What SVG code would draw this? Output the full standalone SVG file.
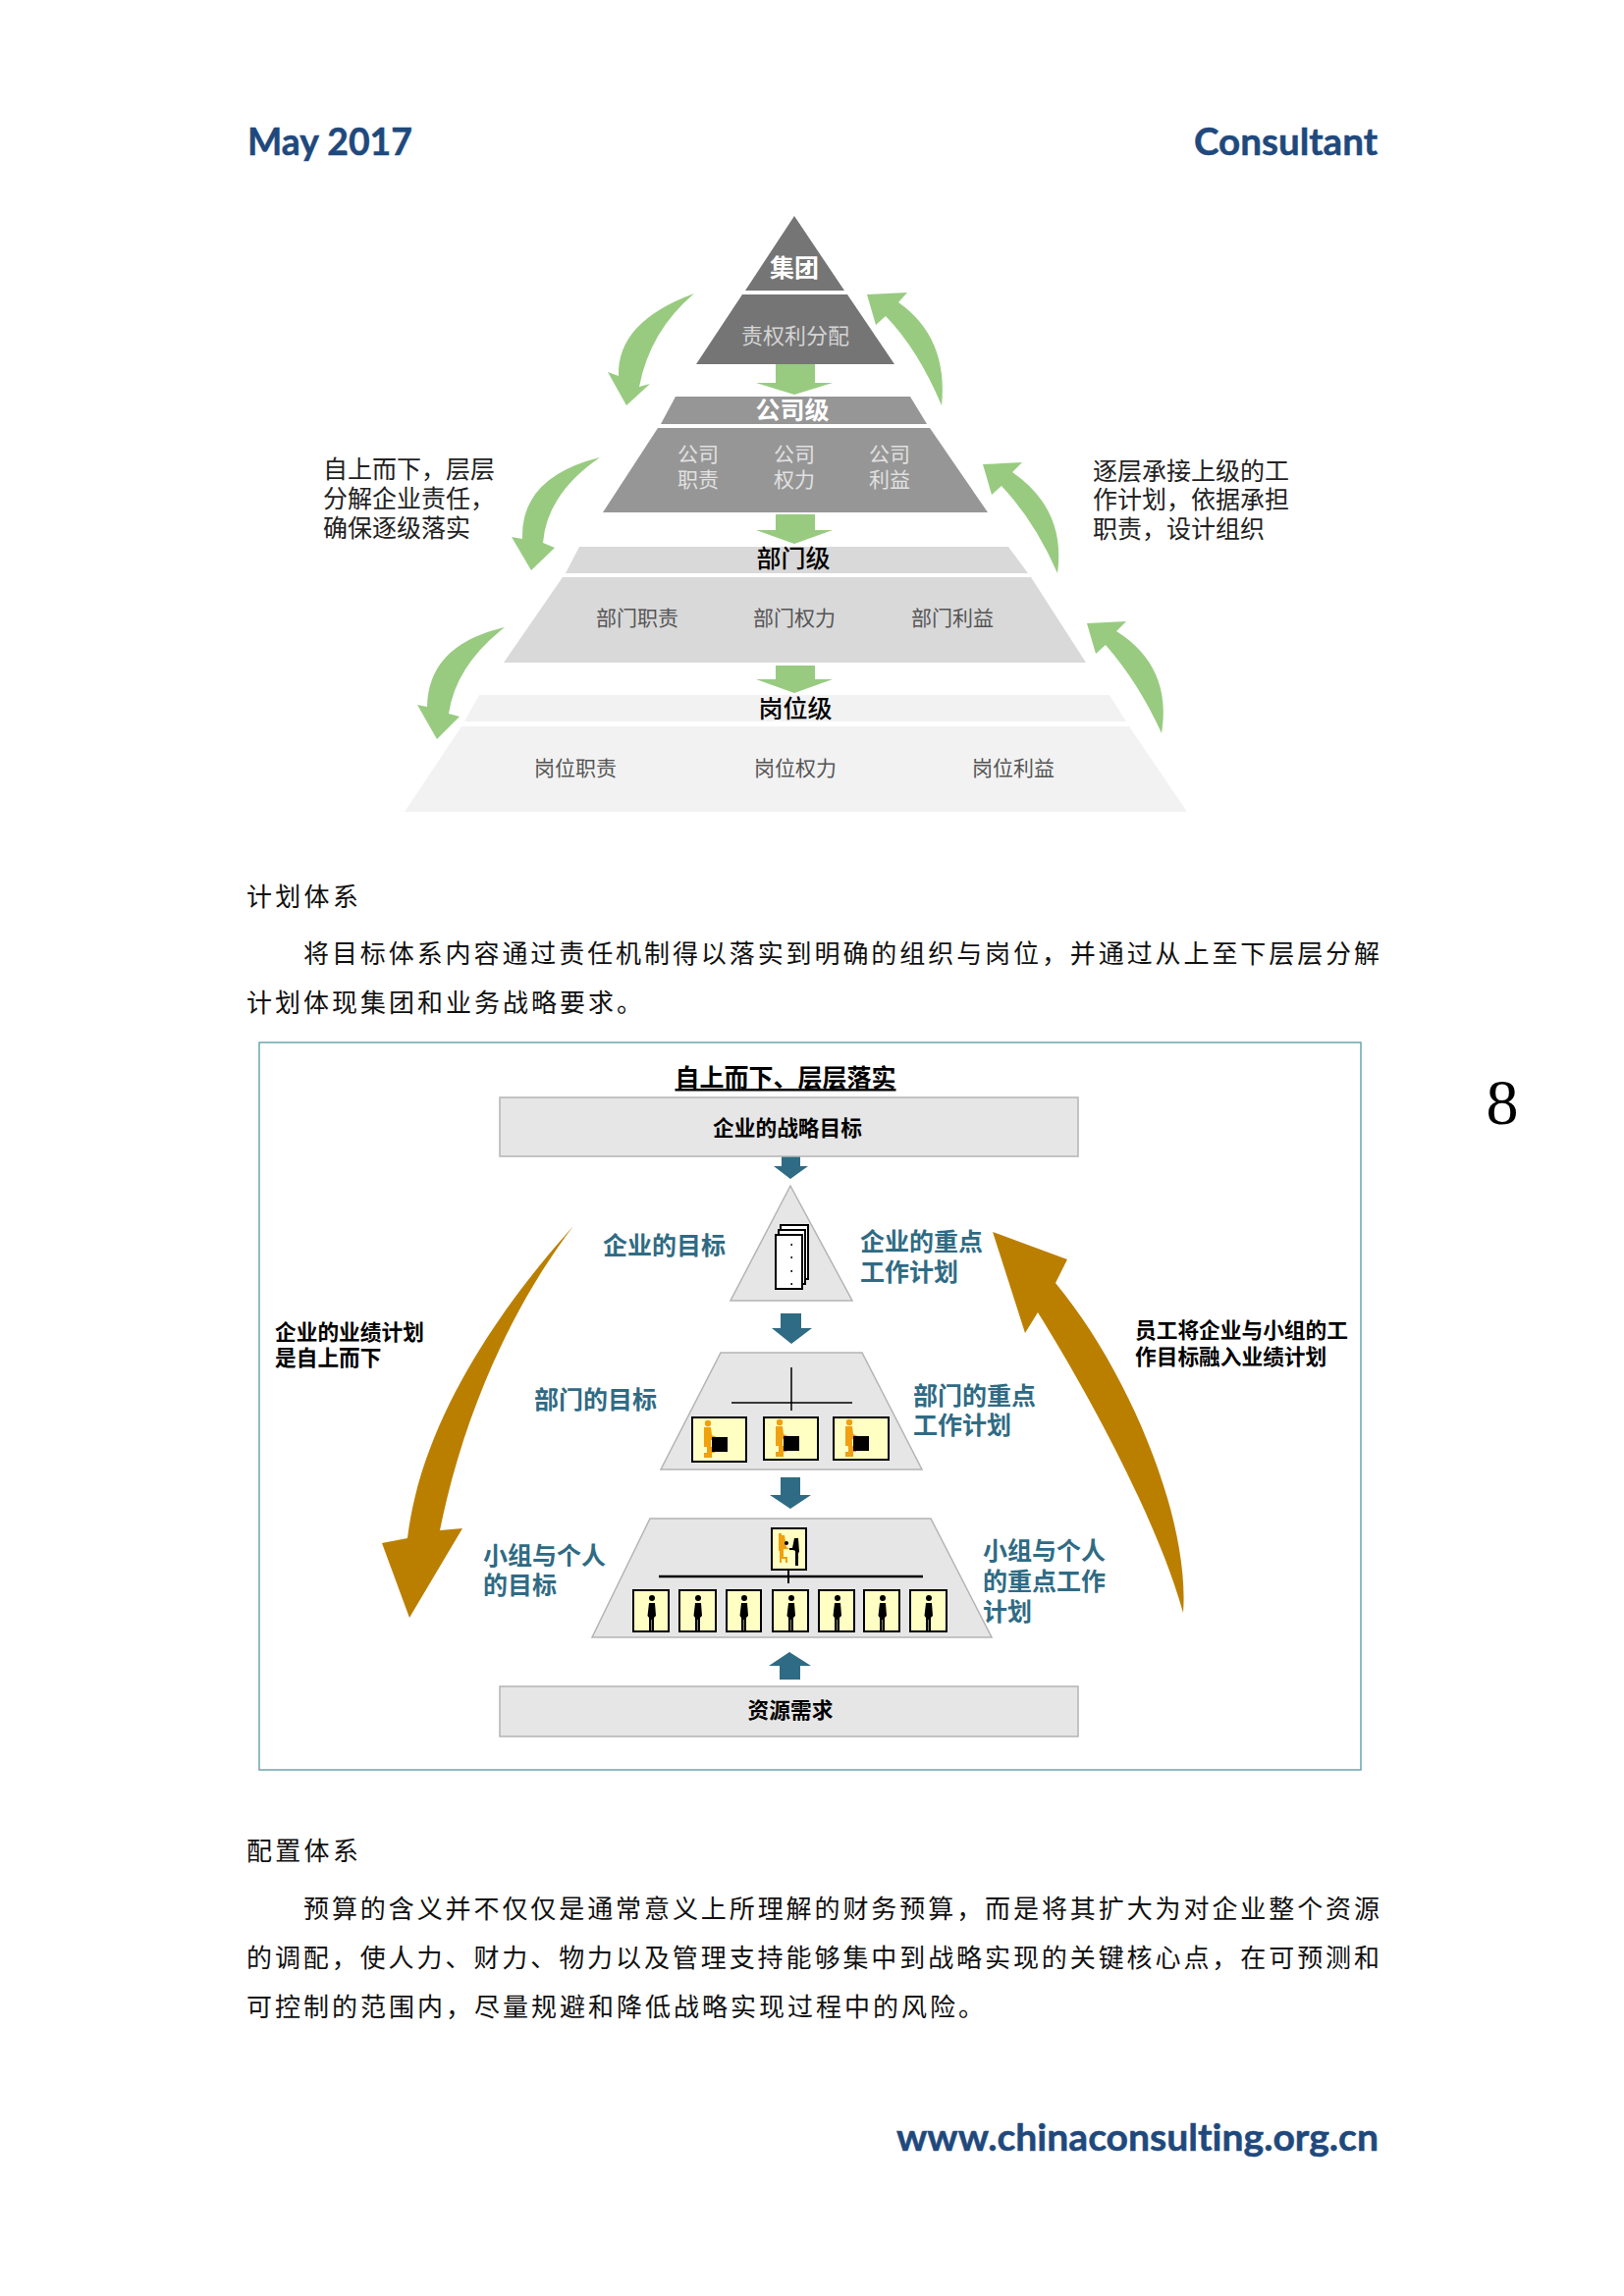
<svg xmlns="http://www.w3.org/2000/svg" xmlns:xlink="http://www.w3.org/1999/xlink" width="1654" height="2339" viewBox="0 0 1654 2339">
<style>
text{font-family:"Noto Sans CJK SC","Noto Sans",sans-serif;fill:#000}
.m{text-anchor:middle}
.lat{font-family:"Lato","Open Sans",sans-serif;font-weight:700;fill:#1f497d;stroke:#1f497d;stroke-width:.5;font-variant-ligatures:none}
.body{font-size:26px;fill:#111}
.lv{font-size:25px}
.w{fill:#fff;font-weight:700}
.s{font-size:21px}
.note{font-size:25px;fill:#222}
.t{font-size:25px;font-weight:700;fill:#2f6b84}
.k{font-size:21.7px;font-weight:700;fill:#000}
.green{fill:#98cb80}
.brown{fill:#bb7f00}
.teal{fill:#2f6b84}
.shape{fill:#e6e6e6;stroke:#b4b4b4;stroke-width:1.5}
.cell{fill:#ffffc4;stroke:#000;stroke-width:2}
.bk{fill:#000}
.or{fill:#f0a010}
</style>
<defs>
<g id="seat">
<circle cx="16" cy="6" r="3.2" class="or"/>
<path class="or" d="M12 10h7l1 8 5 2v3h-6v7h4v6h-3v5h-8v-5h3v-6h-3z"/>
<rect x="20" y="20" width="16" height="15" class="bk"/>
</g>
<g id="stand">
<circle cx="19" cy="8" r="3" class="bk"/>
<path class="bk" d="M16 13h6l1 13-2 2v14h-2v-12h-.5v12H16V28l-1.500-2z"/>
</g>
</defs>
<rect width="1654" height="2339" fill="#fff"/>

<g id="page-header">
<text class="lat" x="252" y="158" font-size="38" textLength="168" lengthAdjust="spacingAndGlyphs">May 2017</text>
<text class="lat" x="1216" y="158" font-size="38" textLength="187" lengthAdjust="spacingAndGlyphs">Consultant</text>
<text x="1530" y="1145" font-size="66" class="m" style="font-family:'Liberation Serif',serif">8</text>
<text class="lat" x="913" y="2191" font-size="38" textLength="491" lengthAdjust="spacingAndGlyphs">www.chinaconsulting.org.cn</text>
</g>

<g id="pyramid-connectors">
<path class="green" d="M790 371H830V390H848L809 402L770 390H790Z"/>
<path class="green" d="M790 524H830V540H848L809 554L770 540H790Z"/>
<path class="green" d="M790 678H830V692H848L809 706L770 692H790Z"/>
<path class="green" d="M707 299Q628 328 630 383L619 379L638 413L662 391L651 394Q662 337 707 299Z"/>
<path class="green" d="M611 466Q530 486 532 549L521 547L541 581L565 558L553 553Q557 503 611 466Z"/>
<path class="green" d="M514 639Q436 657 435 720L425 718L445 753L468 730L457 727Q464 678 514 639Z"/>
<path class="green" d="M959 413Q966 344 915 308L924 298L883 300L892 331L902 322Q935 356 959 413Z"/>
<path class="green" d="M1077 584Q1086 519 1031 481L1041 471L1001 473L1010 504L1020 495Q1054 531 1077 584Z"/>
<path class="green" d="M1183 747Q1194 679 1137 643L1147 633L1107 635L1116 666L1126 657Q1160 696 1183 747Z"/>
</g>

<g id="level-group">
<path fill="#757575" d="M809 220L860 296H759Z"/>
<path fill="#757575" d="M756 300H863L911 371H709Z"/>
<text class="lv w m" x="809" y="282">集团</text>
<text class="m" x="810" y="350" font-size="22" style="fill:#d4d4d4">责权利分配</text>
</g>
<g id="level-company">
<path fill="#969696" d="M688 404H927L944 432H673Z"/>
<path fill="#969696" d="M670 436H947L1006 522H614Z"/>
<text class="lv w m" x="807" y="427">公司级</text>
<g class="s m">
<text x="711" y="470" style="fill:#e0e0e0">公司</text><text x="711" y="496" style="fill:#e0e0e0">职责</text>
<text x="809" y="470" style="fill:#e0e0e0">公司</text><text x="809" y="496" style="fill:#e0e0e0">权力</text>
<text x="906" y="470" style="fill:#e0e0e0">公司</text><text x="906" y="496" style="fill:#e0e0e0">利益</text>
</g>
</g>
<g id="level-dept">
<path fill="#d9d9d9" d="M590 557H1027L1047 584H576Z"/>
<path fill="#d9d9d9" d="M573 588H1050L1106 675H513Z"/>
<text class="lv m" x="808" y="578" font-weight="500">部门级</text>
<g class="s m">
<text x="649" y="637" style="fill:#555">部门职责</text>
<text x="809" y="637" style="fill:#555">部门权力</text>
<text x="970" y="637" style="fill:#555">部门利益</text>
</g>
</g>
<g id="level-post">
<path fill="#f2f2f2" d="M488 708H1130L1147 735H473Z"/>
<path fill="#f2f2f2" d="M470 740H1150L1209 827H412Z"/>
<text class="lv m" x="810" y="731" font-weight="500">岗位级</text>
<g class="s m">
<text x="586" y="790" style="fill:#555">岗位职责</text>
<text x="810" y="790" style="fill:#555">岗位权力</text>
<text x="1032" y="790" style="fill:#555">岗位利益</text>
</g>
</g>
<g id="note-left">
<text class="note" x="329" y="487">自上而下，层层</text>
<text class="note" x="329" y="517">分解企业责任，</text>
<text class="note" x="329" y="547">确保逐级落实</text>
</g>
<g id="note-right">
<text class="note" x="1113" y="489">逐层承接上级的工</text>
<text class="note" x="1113" y="518">作计划，依据承担</text>
<text class="note" x="1113" y="548">职责，设计组织</text>
</g>

<g id="para-1">
<text class="body" x="251" y="923" letter-spacing="3.300">计划体系</text>
<text class="body" x="309" y="981" textLength="1096">将目标体系内容通过责任机制得以落实到明确的组织与岗位，并通过从上至下层层分解</text>
<text class="body" x="251" y="1031" letter-spacing="3">计划体现集团和业务战略要求。</text>
</g>

<g id="frame"><rect x="264" y="1062" width="1122" height="741" fill="#fff" stroke="#6aa6ae" stroke-width="1.5"/></g>
<g id="title"><text class="lv m" x="800" y="1107" font-weight="700" text-decoration="underline">自上而下、层层落实</text></g>

<g id="plan-connectors">
<path class="teal" d="M796 1178H815V1188H823L805 1201L788 1188H796Z"/>
<path class="teal" d="M795 1338H816V1353H827L806 1369L786 1353H795Z"/>
<path class="teal" d="M795 1505H815V1523H826L805 1537L784 1523H795Z"/>
<path class="teal" d="M794 1711H815V1697H826L804 1683L783 1697H794Z"/>
<path class="brown" d="M584 1249C520 1320 430 1440 415 1567L389 1572L417 1648L471 1557L448 1559C472 1440 522 1330 584 1249Z"/>
<path class="brown" d="M1205 1643C1212 1550 1152 1400 1075 1307L1087 1283L1011 1255L1044 1358L1057 1337C1110 1422 1180 1552 1205 1643Z"/>
</g>

<g id="box-strategy">
<rect class="shape" x="509" y="1118" width="589" height="60"/>
<text class="k m" x="802" y="1157">企业的战略目标</text>
</g>
<g id="tier-company">
<path class="shape" d="M805 1208L868 1325H744Z"/>
<rect x="795" y="1248" width="28" height="55" fill="#fff" stroke="#000" stroke-width="2"/>
<rect x="793" y="1253" width="27" height="55" fill="#fff" stroke="#000" stroke-width="2"/>
<rect x="790" y="1258" width="27" height="55" fill="#fff" stroke="#000" stroke-width="2"/>
<path class="bk" d="M805.500 1267h1.500v2h-1.500zM805.500 1280h1.500v2h-1.500zM805.500 1294h1.500v2h-1.500zM805.500 1307h1.500v2h-1.500z"/>
<text class="t" x="614" y="1278">企业的目标</text>
<text class="t" x="876" y="1274">企业的重点</text>
<text class="t" x="876" y="1305">工作计划</text>
</g>
<g id="tier-dept">
<path class="shape" d="M734 1378H878L939 1497H673Z"/>
<path d="M806 1393V1437M745 1429H868" stroke="#000" stroke-width="1.500" fill="none"/>
<rect class="cell" x="705" y="1444" width="55" height="45"/><use xlink:href="#seat" href="#seat" x="705" y="1444"/>
<rect class="cell" x="778" y="1444" width="55" height="43"/><use xlink:href="#seat" href="#seat" x="778" y="1443"/>
<rect class="cell" x="849" y="1444" width="56" height="43"/><use xlink:href="#seat" href="#seat" x="849" y="1443"/>
<text class="t" x="544" y="1435">部门的目标</text>
<text class="t" x="930" y="1431">部门的重点</text>
<text class="t" x="930" y="1461">工作计划</text>
</g>
<g id="tier-team">
<path class="shape" d="M662 1547H948L1010 1668H603Z"/>
<path d="M671 1606H940" stroke="#000" stroke-width="2.500"/>
<path d="M803 1599V1613" stroke="#000" stroke-width="2"/>
<rect class="cell" x="786" y="1557" width="35" height="42"/>
<path class="or" d="M793 1562h3v2h3l2 12 3 2h-6v8h4v6h-2v-4h-4v4h-2v-12h-1z"/>
<path class="bk" d="M809 1567h4l1 14-1 1v13h-3v-15l-2-1h-4v-2h3z"/>
<circle cx="801" cy="1572" r="2" class="bk"/>
<g>
<rect class="cell" x="645" y="1620" width="36" height="42"/><use xlink:href="#stand" href="#stand" x="645" y="1620"/>
<rect class="cell" x="692" y="1620" width="37" height="42"/><use xlink:href="#stand" href="#stand" x="692" y="1620"/>
<rect class="cell" x="740" y="1620" width="35" height="42"/><use xlink:href="#stand" href="#stand" x="739" y="1620"/>
<rect class="cell" x="787" y="1620" width="36" height="42"/><use xlink:href="#stand" href="#stand" x="787" y="1620"/>
<rect class="cell" x="834" y="1620" width="36" height="42"/><use xlink:href="#stand" href="#stand" x="834" y="1620"/>
<rect class="cell" x="880" y="1620" width="36" height="42"/><use xlink:href="#stand" href="#stand" x="880" y="1620"/>
<rect class="cell" x="927" y="1620" width="37" height="42"/><use xlink:href="#stand" href="#stand" x="927" y="1620"/>
</g>
<text class="t" x="492" y="1594">小组与个人</text>
<text class="t" x="492" y="1624">的目标</text>
<text class="t" x="1001" y="1589">小组与个人</text>
<text class="t" x="1001" y="1620">的重点工作</text>
<text class="t" x="1001" y="1651">计划</text>
</g>
<g id="box-resource">
<rect class="shape" x="509" y="1718" width="589" height="51"/>
<text class="k m" x="805" y="1750">资源需求</text>
</g>
<g id="side-notes">
<text class="k" x="280" y="1365">企业的业绩计划</text>
<text class="k" x="280" y="1391">是自上而下</text>
<text class="k" x="1156" y="1363">员工将企业与小组的工</text>
<text class="k" x="1156" y="1390">作目标融入业绩计划</text>
</g>

<g id="para-2">
<text class="body" x="251" y="1895" letter-spacing="3.300">配置体系</text>
<text class="body" x="309" y="1954" textLength="1096">预算的含义并不仅仅是通常意义上所理解的财务预算，而是将其扩大为对企业整个资源</text>
<text class="body" x="251" y="2004" textLength="1154">的调配，使人力、财力、物力以及管理支持能够集中到战略实现的关键核心点，在可预测和</text>
<text class="body" x="251" y="2054" letter-spacing="3">可控制的范围内，尽量规避和降低战略实现过程中的风险。</text>
</g>
</svg>
